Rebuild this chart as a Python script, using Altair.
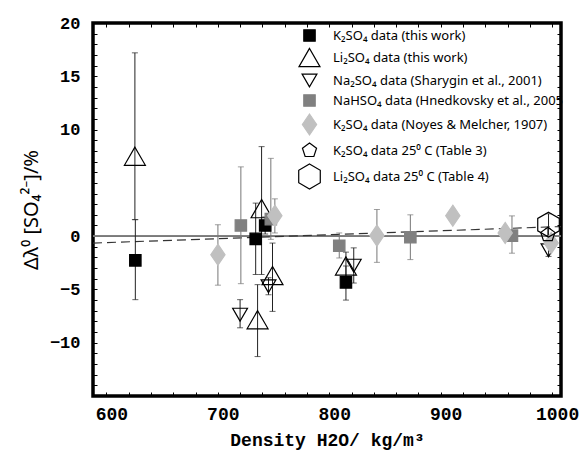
import altair as alt
import pandas as pd

# ---------------- data ----------------
series_names = [
    "K₂SO₄ data (this work)",
    "Li₂SO₄ data (this work)",
    "Na₂SO₄ data (Sharygin et al., 2001)",
    "NaHSO₄ data (Hnedkovsky et al., 2005",
    "K₂SO₄ data (Noyes & Melcher, 1907)",
    "K₂SO₄ data 25⁰ C (Table 3)",
    "Li₂SO₄ data 25⁰ C (Table 4)",
]

k2_x = [626, 734, 742.5, 815]
k2_y = [-2.27, -0.26, 1.0, -4.34]
k2_lo = [-5.96, -3.6, 0.2, -6.0]
k2_hi = [1.55, 3.1, 1.8, -2.8]

li_x = [625.6, 739.3, 749.1, 735.7, 815]
li_y = [7.5, 2.58, -3.7, -7.84, -2.8]
li_lo = [1.55, -3.6, -7.06, -11.3, -3.9]
li_hi = [17.2, 8.4, -0.65, -4.55, -1.5]

na_x = [720, 745.5, 822, 996.8]
na_y = [-7.37, -4.7, -2.77, -1.33]
na_lo = [-8.6, -5.5, -4.4, -1.9]
na_hi = [-5.96, -3.9, -1.1, -0.7]

nah_x = [720.7, 747.6, 809, 872.8, 964]
nah_y = [1.0, 1.6, -0.9, -0.1, 0.05]
nah_lo = [-4.46, -0.3, -2.05, -2.2, -1.6]
nah_hi = [6.5, 7.3, 0.3, 2.0, 1.9]

nm_x = [700.1, 751.2, 842.8, 910.9, 957.9, 999.2]
nm_y = [-1.74, 1.92, 0.05, 1.92, 0.3, -0.65]
nm_lo = [-4.6, 0.3, -2.46, None, None, None]
nm_hi = [1.07, 3.5, 2.5, None, None, None]

t3_x = [996.2]
t3_y = [0.14]
t3_lo = [-0.4]
t3_hi = [0.7]

t4_x = [996.8]
t4_y = [1.08]
t4_lo = [0.0]
t4_hi = [2.1]

fit_x = [588, 1008]
fit_y = [-0.65, 0.9]

x_tick_values = list(range(600, 1001, 20))
x_label_values = [600, 700, 800, 900, 1000]
y_tick_values = list(range(-15, 21))
y_label_values = [20, 15, 10, 0, -5, -10]

# ---------------- styles ----------------
DIAMOND = "M0,-1L0.68,0L0,1L-0.68,0Z"
PENTAGON = "M0,-1L0.951,-0.309L0.588,0.809L-0.588,0.809L-0.951,-0.309Z"
HEXAGON = "M0,-1L0.866,-0.5L0.866,0.5L0,1L-0.866,0.5L-0.866,-0.5Z"
shape_range = ["square", "triangle-up", "triangle-down", "square", DIAMOND, PENTAGON, HEXAGON]
fill_range = ["#000000", "transparent", "transparent", "#808080", "#c0c0c0", "transparent", "transparent"]
stroke_range = ["#000000", "#000000", "#000000", "#808080", "#c0c0c0", "#000000", "#000000"]
size_range = [130, 440, 220, 130, 440, 220, 620]
bar_colors = ["#222222", "#222222", "#222222", "#777777", "#777777", "#222222", "#222222"]

groups = [
    (k2_x, k2_y, k2_lo, k2_hi),
    (li_x, li_y, li_lo, li_hi),
    (na_x, na_y, na_lo, na_hi),
    (nah_x, nah_y, nah_lo, nah_hi),
    (nm_x, nm_y, nm_lo, nm_hi),
    (t3_x, t3_y, t3_lo, t3_hi),
    (t4_x, t4_y, t4_lo, t4_hi),
]
rows = []
for name, col, (xs, ys, los, his) in zip(series_names, bar_colors, groups):
    for x, y, lo, hi in zip(xs, ys, los, his):
        rows.append({"series": name, "barcolor": col, "x": x, "y": y, "lo": lo, "hi": hi})
df = pd.DataFrame(rows)
bars = df.dropna(subset=["lo", "hi"])
caps = pd.concat([
    bars.assign(cap=bars["lo"]),
    bars.assign(cap=bars["hi"]),
])[["series", "barcolor", "x", "cap"]]
fit = pd.DataFrame({"x": fit_x, "y": fit_y})

XDOM = [588, 1008]
YDOM = [-15, 20]
xs_ = alt.Scale(domain=XDOM, nice=False, zero=False)
ys_ = alt.Scale(domain=YDOM, nice=False, zero=False)

lbl_x = "indexof(%s, datum.value) >= 0 ? datum.label : ''" % str(x_label_values)
lbl_y = "indexof(%s, datum.value) >= 0 ? datum.label : ''" % str(y_label_values)

bottom_axis = alt.Axis(
    values=x_tick_values, labelExpr=lbl_x, format="d", grid=False, domain=False,
    tickSize=4, offset=-4, tickColor="black", labelPadding=9, labelOffset=5,
    labelFont="Liberation Mono", labelFontWeight="bold", labelFontSize=18, labelColor="black",
    title="Density H2O/ kg/m³", titleFont="Liberation Mono", titleFontWeight="bold",
    titleFontSize=18, titleColor="black", titlePadding=8,
)
left_axis = alt.Axis(
    values=y_tick_values, labelExpr=lbl_y, format="d", grid=False, domain=False,
    tickSize=4, offset=-4, tickColor="black", labelPadding=13,
    labelFont="Liberation Mono", labelFontWeight="bold", labelFontSize=17, labelColor="black",
    title="Δλ⁰ [SO₄²⁻]/%", titleFont="Noto Sans", titleFontWeight="normal",
    titleFontSize=20, titleColor="black", titlePadding=8,
)
top_axis = alt.Axis(orient="top", values=x_tick_values, labels=False, grid=False, domain=False,
                    tickSize=4, offset=-4, tickColor="black", title=None)
right_axis = alt.Axis(orient="right", values=y_tick_values, labels=False, grid=False, domain=False,
                      tickSize=4, offset=-4, tickColor="black", title=None)

zero = alt.Chart(fit).mark_rule(color="#7a7a7a", strokeWidth=1.6).encode(
    y=alt.Y(datum=0, scale=ys_, axis=None)
)
dashed = alt.Chart(fit).mark_line(color="#333333", strokeWidth=1.2, strokeDash=[9, 5]).encode(
    x=alt.X("x:Q", scale=xs_, axis=bottom_axis),
    y=alt.Y("y:Q", scale=ys_, axis=left_axis),
)
errbars = alt.Chart(bars).mark_rule(strokeWidth=1).encode(
    x=alt.X("x:Q", scale=xs_, axis=None),
    y=alt.Y("lo:Q", scale=ys_, axis=None),
    y2="hi:Q",
    stroke=alt.Stroke("barcolor:N", scale=None),
)
errcaps = alt.Chart(caps).mark_tick(orient="horizontal", size=6, thickness=1).encode(
    x=alt.X("x:Q", scale=xs_, axis=None),
    y=alt.Y("cap:Q", scale=ys_, axis=None),
    color=alt.Color("barcolor:N", scale=None),
)
points = alt.Chart(df).mark_point(filled=True, opacity=1, strokeWidth=1.2).encode(
    x=alt.X("x:Q", scale=xs_, axis=top_axis),
    y=alt.Y("y:Q", scale=ys_, axis=right_axis),
    shape=alt.Shape("series:N", scale=alt.Scale(domain=series_names, range=shape_range),
                    legend=alt.Legend(orient="none", legendX=203, legendY=6, title=None,
                                      labelFont="Noto Sans", labelFontSize=13, labelColor="black",
                                      labelLimit=400, padding=0, rowPadding=2, labelOffset=10,
                                      symbolStrokeWidth=1.2)),
    fill=alt.Fill("series:N", scale=alt.Scale(domain=series_names, range=fill_range)),
    stroke=alt.Stroke("series:N", scale=alt.Scale(domain=series_names, range=stroke_range)),
    size=alt.Size("series:N", scale=alt.Scale(type="ordinal", domain=series_names, range=size_range)),
)

chart = alt.layer(zero, dashed, errbars, errcaps, points).resolve_axis(
    x="independent", y="independent"
).properties(
    width=468, height=373,
    autosize=alt.AutoSizeParams(type="none"),
    padding={"left": 85, "top": 15, "right": 18, "bottom": 55},
).configure_view(stroke="black", strokeWidth=3.5)

chart.save("out.html", embed_options={"renderer": "svg", "actions": False})
